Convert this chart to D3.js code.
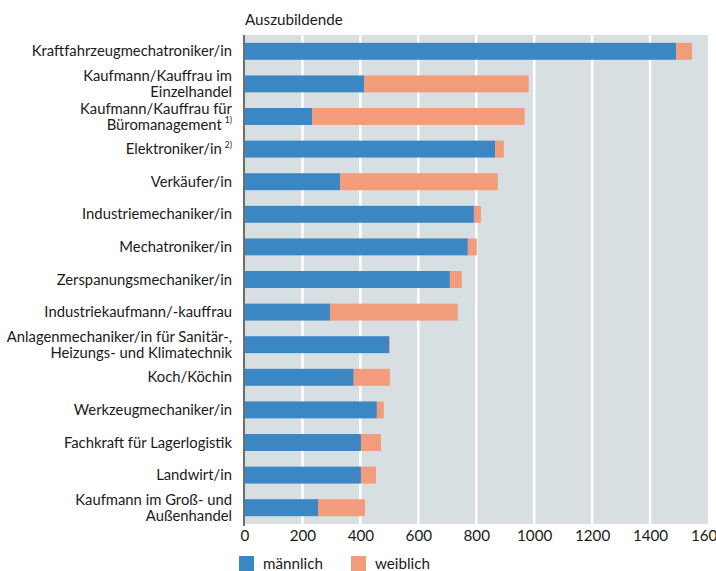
<!DOCTYPE html>
<html>
<head>
<meta charset="utf-8">
<script src="https://cdn.jsdelivr.net/npm/d3@7"></script>
<style>
  html, body { margin: 0; padding: 0; background: #ffffff; }
  svg { display: block; }
  text { font-family: Lato, "Noto Sans", sans-serif; fill: #1a1a1a; }
</style>
</head>
<body>
<svg id="chart" width="716" height="571"></svg>
<script>
const categories = [
  ["Kraftfahrzeugmechatroniker/in"],
  ["Kaufmann/Kauffrau im", "Einzelhandel"],
  ["Kaufmann/Kauffrau für", "Büromanagement|1)"],
  ["Elektroniker/in|2)"],
  ["Verkäufer/in"],
  ["Industriemechaniker/in"],
  ["Mechatroniker/in"],
  ["Zerspanungsmechaniker/in"],
  ["Industriekaufmann/-kauffrau"],
  ["Anlagenmechaniker/in für Sanitär-,", "Heizungs- und Klimatechnik"],
  ["Koch/Köchin"],
  ["Werkzeugmechaniker/in"],
  ["Fachkraft für Lagerlogistik"],
  ["Landwirt/in"],
  ["Kaufmann im Groß- und", "Außenhandel"]
];
const maennlich = [1490, 413, 233, 865, 330, 792, 771, 709, 295, 499, 377, 457, 402, 402, 254];
const weiblich  = [55, 568, 734, 30, 544, 24, 31, 41, 441, 3, 125, 24, 69, 52, 162];
const xTicks = [0, 200, 400, 600, 800, 1000, 1200, 1400, 1600];
const seriesNames = ["männlich", "weiblich"];
const colors = ["#3b87c4", "#f39c7c"];
const axisTitle = "Auszubildende";

(function () {
const svg = d3.select("#chart");
const pL = 244.5, pR = 708, pT = 35, pB = 524;
const fs = 15.2, lfs = 14.8;

const x = d3.scaleLinear().domain([0, 1600]).range([pL, pR]);
const idx = categories.map((d, i) => i);
const y = d3.scaleBand().domain(idx).range([pT, pB]).paddingInner(0.48).paddingOuter(0.24);

svg.append("rect").attr("x", pL).attr("y", pT)
  .attr("width", pR - pL).attr("height", pB - pT).attr("fill", "#d7dfe3");

svg.append("g").selectAll("line").data(xTicks.slice(1, -1)).join("line")
  .attr("x1", d => x(d)).attr("x2", d => x(d))
  .attr("y1", pT).attr("y2", pB)
  .attr("stroke", "#ffffff").attr("stroke-width", 2.5);

const rows = idx.map(i => ({ i, m: maennlich[i], w: weiblich[i] }));
const stack = d3.stack().keys(["m", "w"])(rows);
svg.append("g").selectAll("g").data(stack).join("g")
  .attr("fill", (d, k) => colors[k])
  .selectAll("rect").data(d => d).join("rect")
  .attr("x", d => x(d[0]))
  .attr("width", d => x(d[1]) - x(d[0]))
  .attr("y", d => y(d.data.i))
  .attr("height", y.bandwidth());

svg.append("line").attr("x1", pL - 0.5).attr("x2", pL - 0.5)
  .attr("y1", pT).attr("y2", pB + 2)
  .attr("stroke", "#6e6e6e").attr("stroke-width", 2);

const lab = svg.append("g").attr("font-size", lfs).attr("text-anchor", "end");
const lh = 16;
categories.forEach((lines, i) => {
  const cy = y(i) + y.bandwidth() / 2;
  const y0 = cy - (lines.length - 1) * lh / 2;
  const t = lab.append("text").attr("x", 232).attr("y", y0).attr("dy", "0.35em");
  lines.forEach((ln, j) => {
    const parts = ln.split("|");
    const ts = t.append("tspan").text(parts[0]);
    if (j > 0) ts.attr("x", 232).attr("y", y0 + j * lh).attr("dy", "0.35em");
    if (parts[1]) {
      t.append("tspan").attr("font-size", 8.5).attr("dx", 3).attr("dy", "-0.75em").text(parts[1]);
    }
  });
});

const xAxis = d3.axisBottom(x).tickValues(xTicks).tickSize(0).tickPadding(6).tickFormat(d3.format("d"));
const gx = svg.append("g").attr("transform", `translate(0,${pB})`).call(xAxis);
gx.select(".domain").remove();
gx.selectAll("text").attr("font-size", fs).attr("fill", "#1a1a1a")
  .style("font-family", 'Lato, "Noto Sans", sans-serif');

svg.append("text").attr("x", 245).attr("y", 25).attr("font-size", fs).text(axisTitle);

const leg = svg.append("g").attr("font-size", fs);
const legX = [239, 351];
seriesNames.forEach((n, k) => {
  leg.append("rect").attr("x", legX[k]).attr("y", 556).attr("width", 15).attr("height", 15).attr("fill", colors[k]);
  leg.append("text").attr("x", legX[k] + 24).attr("y", 563.5).attr("dy", "0.35em").text(n);
});
})();
</script>
</body>
</html>
